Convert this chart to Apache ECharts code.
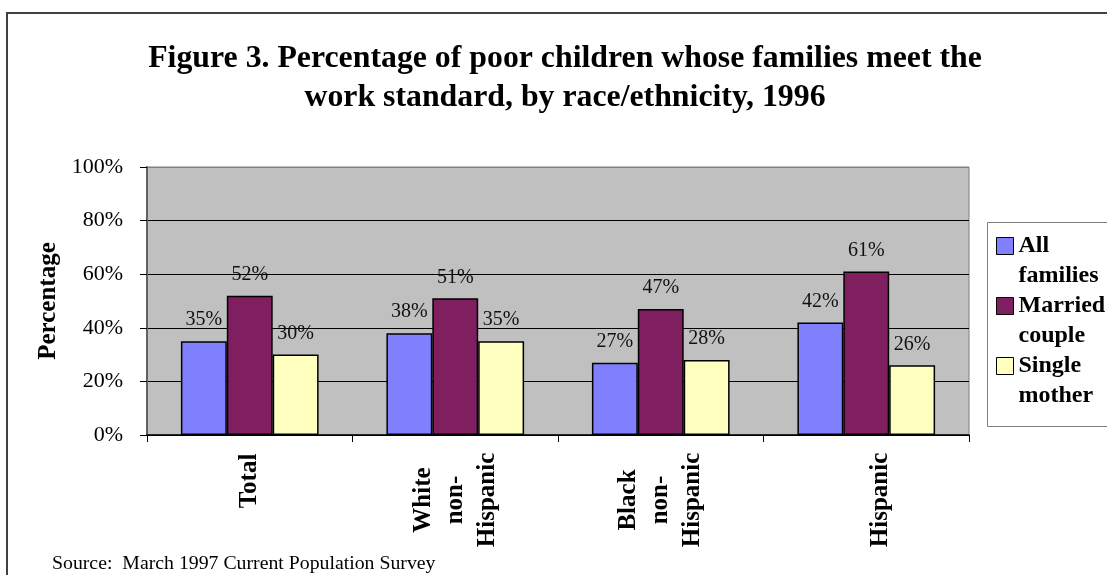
<!DOCTYPE html>
<html>
<head>
<meta charset="utf-8">
<title>Figure 3</title>
<script src="https://cdn.jsdelivr.net/npm/echarts@6/dist/echarts.min.js"></script>
<style>
  html, body { margin: 0; padding: 0; background: #fff; }
  #chart { width: 1107px; height: 575px; }
</style>
</head>
<body>
<div id="chart"></div>
<script>
// Categories (line breaks follow the wrapped axis labels)
const categories = ['Total', 'White\nnon-\nHispanic', 'Black\nnon-\nHispanic', 'Hispanic'];

// Percent of poor children whose families meet the work standard
const allFamilies   = [35, 38, 27, 42];
const marriedCouple = [52, 51, 47, 61];
const singleMother  = [30, 35, 28, 26];

const seriesNames = ['All families', 'Married couple', 'Single mother'];
const yTicks = [0, 20, 40, 60, 80, 100];

const SERIF = '"Liberation Serif", "Times New Roman", Times, serif';
const colors = ['#8080FF', '#7F1F5F', '#FFFFC0'];

const barSeries = [allFamilies, marriedCouple, singleMother].map((values, i) => ({
  name: seriesNames[i],
  type: 'bar',
  data: values,
  barGap: '0%',
  barCategoryGap: '33%',
  itemStyle: { color: colors[i], borderColor: '#000', borderWidth: 1.5 },
  label: {
    show: true,
    position: 'top',
    distance: 11,
    formatter: '{c}%',
    fontFamily: SERIF,
    fontSize: 20,
    color: '#111'
  },
  emphasis: { disabled: true },
  animation: false
}));

const chart = echarts.init(document.getElementById('chart'), null, { renderer: 'canvas' });

chart.setOption({
  animation: false,
  backgroundColor: '#fff',
  title: [
    {
      text: 'Figure 3. Percentage of poor children whose families meet the\nwork standard, by race/ethnicity, 1996',
      left: 565,
      top: 39,
      textAlign: 'center',
      padding: 0,
      textStyle: {
        fontFamily: SERIF,
        fontWeight: 'bold',
        fontSize: 31.8,
        lineHeight: 39,
        color: '#000'
      }
    },
    {
      text: 'Source:  March 1997 Current Population Survey',
      left: 52,
      top: 554,
      padding: 0,
      textStyle: {
        fontFamily: SERIF,
        fontWeight: 'normal',
        fontSize: 19.8,
        color: '#000'
      }
    }
  ],
  graphic: [
    {
      // outer chart frame
      type: 'rect',
      shape: { x: 7, y: 13, width: 1200, height: 700 },
      style: { fill: 'none', stroke: '#404040', lineWidth: 2 },
      silent: true,
      z: -1
    },
    {
      // legend frame
      type: 'rect',
      shape: { x: 987.5, y: 222.5, width: 200, height: 204 },
      style: { fill: '#fff', stroke: '#808080', lineWidth: 1 },
      silent: true,
      z: 0
    }
  ],
  legend: {
    orient: 'vertical',
    left: 996,
    top: 201,
    padding: 0,
    itemGap: -30,
    itemWidth: 17,
    itemHeight: 17,
    icon: 'rect',
    selectedMode: false,
    z: 5,
    data: seriesNames,
    formatter: name => ' \n' + name.replace(' ', '\n'),
    itemStyle: { borderColor: '#000', borderWidth: 1 },
    textStyle: {
      fontFamily: SERIF,
      fontWeight: 'bold',
      fontSize: 24,
      lineHeight: 30,
      color: '#000'
    }
  },
  grid: {
    left: 147,
    right: 138,
    top: 167,
    bottom: 140,
    show: true,
    backgroundColor: '#C0C0C0',
    borderColor: '#808080',
    borderWidth: 1,
    containLabel: false,
    outerBoundsMode: 'none'
  },
  xAxis: {
    type: 'category',
    data: categories,
    boundaryGap: true,
    axisLine: { show: true, lineStyle: { color: '#000', width: 1.5 } },
    axisTick: { show: true, alignWithLabel: false, length: 7, lineStyle: { color: '#000', width: 1 } },
    splitLine: { show: false },
    axisLabel: {
      interval: 0,
      rotate: 90,
      align: 'center',
      verticalAlign: 'middle',
      margin: 65,
      fontFamily: SERIF,
      fontWeight: 'bold',
      fontSize: 25,
      lineHeight: 32,
      color: '#000',
      formatter: value => {
        if (value === 'Total') return '{t|' + value + '}';
        if (value === 'Hispanic') return '{h|' + value + '}';
        return value;
      },
      rich: {
        t: { fontFamily: SERIF, fontWeight: 'bold', fontSize: 25, lineHeight: 32, color: '#000', padding: [0, 0, 0, 38] },
        h: { fontFamily: SERIF, fontWeight: 'bold', fontSize: 25, lineHeight: 32, color: '#000', padding: [28, 0, 0, 0] }
      }
    }
  },
  yAxis: {
    type: 'value',
    min: yTicks[0],
    max: yTicks[yTicks.length - 1],
    interval: yTicks[1] - yTicks[0],
    name: 'Percentage',
    nameLocation: 'middle',
    nameRotate: 90,
    nameGap: 86,
    nameTextStyle: {
      fontFamily: SERIF,
      fontWeight: 'bold',
      fontSize: 25,
      color: '#000'
    },
    axisLine: { show: true, lineStyle: { color: '#606060', width: 2 } },
    axisTick: { show: true, length: 7, lineStyle: { color: '#000', width: 1 } },
    axisLabel: {
      margin: 24,
      formatter: '{value}%',
      fontFamily: SERIF,
      fontSize: 22,
      color: '#000'
    },
    splitLine: {
      show: true,
      lineStyle: { color: ['#000', '#000', '#000', '#000', '#000', '#808080'], width: 1 }
    }
  },
  series: barSeries
});
</script>
</body>
</html>
